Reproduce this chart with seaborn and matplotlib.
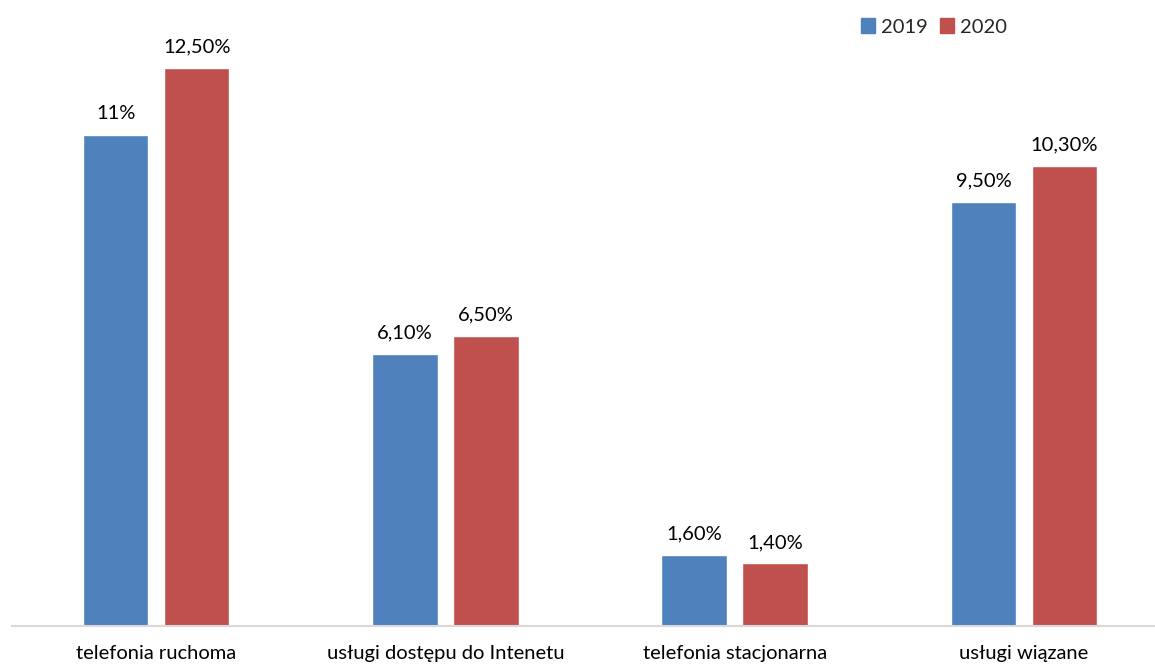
import pandas as pd
import seaborn as sns
import matplotlib.pyplot as plt
from matplotlib.patches import Patch

categories = ["telefonia ruchoma", "usługi dostępu do Intenetu", "telefonia stacjonarna", "usługi wiązane"]
years = ["2019", "2020"]
values_2019 = [11.0, 6.1, 1.6, 9.5]
values_2020 = [12.5, 6.5, 1.4, 10.3]
labels_2019 = ["11%", "6,10%", "1,60%", "9,50%"]
labels_2020 = ["12,50%", "6,50%", "1,40%", "10,30%"]
colors = ["#4F81BD", "#C0504D"]

df = pd.DataFrame({
    "kategoria": categories * 2,
    "rok": [years[0]] * 4 + [years[1]] * 4,
    "wartosc": values_2019 + values_2020,
})

sns.set_theme(style="white")
plt.rcParams["font.family"] = ["Lato", "DejaVu Sans"]

fig = plt.figure(figsize=(11.55, 6.68), dpi=100)
ax = fig.add_axes([11.5 / 1155, 42 / 668, 1157 / 1155, 626 / 668])

sns.barplot(data=df, x="kategoria", y="wartosc", hue="rok", palette=colors,
            width=0.56, gap=0.19, ax=ax, legend=False, saturation=1)

for cont, labs in zip(ax.containers, [labels_2019, labels_2020]):
    ax.bar_label(cont, labels=labs, padding=9, fontsize=14.5, color="#000000")

ax.set_ylim(0, 14.02)
ax.set_xlim(-0.5, 3.5)
ax.set_yticks([])
ax.set_xlabel("")
ax.set_ylabel("")
for s in ["top", "right", "left"]:
    ax.spines[s].set_visible(False)
ax.spines["bottom"].set_color("#D9D9D9")
ax.spines["bottom"].set_linewidth(1.5)
ax.tick_params(axis="x", length=0, pad=14, labelsize=14.5, labelcolor="#000000")

handles = [Patch(color=c, label=y) for c, y in zip(colors, years)]
fig.legend(handles=handles, loc="center left", bbox_to_anchor=(861 / 1155, 1 - 27 / 668),
           ncol=2, frameon=False, fontsize=14.5, handlelength=0.7, handleheight=0.7,
           handletextpad=0.3, columnspacing=0.6, borderaxespad=0, borderpad=0)

fig.savefig("out.png", dpi=100)
